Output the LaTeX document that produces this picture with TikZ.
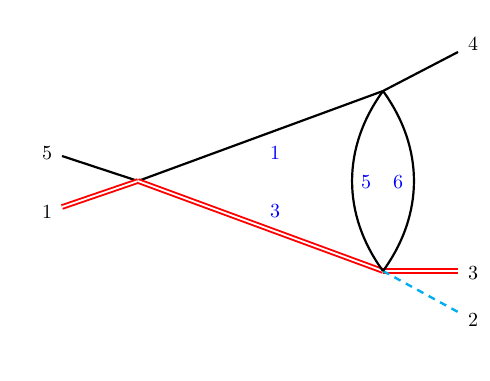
\documentclass[tikz,border=0pt]{standalone}
\usetikzlibrary{positioning}
\definecolor{cGhost}{RGB}{0,174,239}

\begin{document}
\begin{tikzpicture}[x=0.5pt, y=-0.5pt,
            plain/.style={line width=1.1pt},
            dbl/.style={line width=0.95pt, draw=red, double=white, double distance=0.9pt},
            ghost/.style={line width=1.2pt, cGhost, dash pattern=on 3.5pt off 3pt},
            lab/.style={inner sep=0pt},
            wlab/.style={inner sep=0pt, text=blue}]
            \useasboundingbox (0,0) rectangle (490,380);
            % vertices
            \coordinate (vL) at (138,181);
            \coordinate (vT) at (383,91);
            \coordinate (vB) at (383,271);
            % external legs
            \foreach \n/\x/\y in {5/62/156,1/62/207,4/458/52,3/458/271,2/458/312}{
                \coordinate (e\n) at (\x,\y);}
            \foreach \n/\x/\y in {5/47/153,1/47/212,4/473/44,3/473/273,2/473/320}{
                \node[lab] (l\n) at (\x,\y) {\n};}
            \draw[plain] (e5)--(vL) (vT)--(e4);
            \draw[dbl] (e1)--(vL);
            \draw[dbl] (vB)--(e3);
            \draw[ghost] (vB)--(e2);
            % internal lines
            \draw[plain] (vL)--(vT);
            \draw[dbl] (vL)--(vB);
            \draw[plain] (vT) to[bend right=36] (vB);
            \draw[plain] (vT) to[bend left=36] (vB);
            \node[wlab] (w1) at (275,153) {1};
            \node[wlab] (w3) at (275,211) {3};
            \node[wlab] (w5) at (366,182) {5};
            \node[wlab] (w6) at (398,182) {6};
        \end{tikzpicture}
\end{document}
